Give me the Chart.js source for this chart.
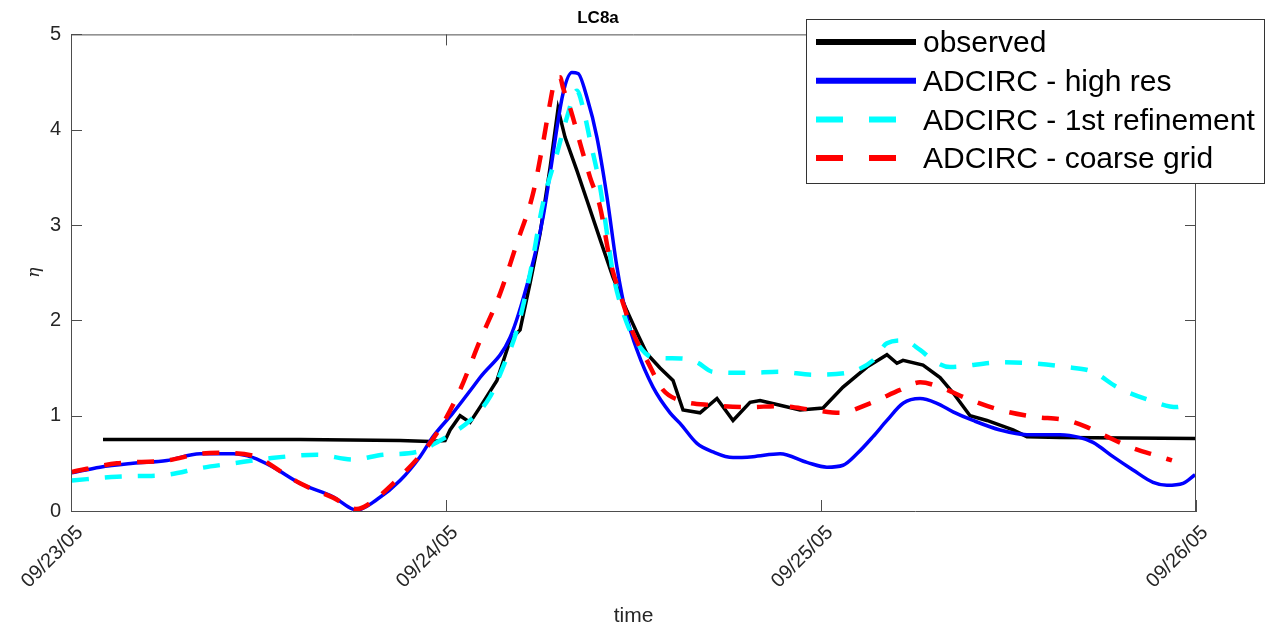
<!DOCTYPE html>
<html>
<head>
<meta charset="utf-8">
<script src="https://cdn.jsdelivr.net/npm/chart.js@4.4.1/dist/chart.umd.min.js"></script>
<style>
  body { margin: 0; background: #fff; }
  #caja { width: 1281px; height: 631px; }
</style>
</head>
<body>
<div id="caja"><canvas id="grafica"></canvas></div>
<script>
// horas desde 09/23/05 00:00
const tickLabels = ['09/23/05', '09/24/05', '09/25/05', '09/26/05'];

const horasObs = [2.05, 8.26, 14.66, 21.06, 22.98, 23.94, 24.26, 24.9, 25.54, 26.18, 27.26, 28.1, 28.74, 29.38, 30.02, 30.66, 31.17, 31.62, 32.38, 33.02, 33.86, 34.69, 35.58, 36.22, 36.86, 37.7, 38.53, 39.17, 40.26, 41.34, 42.37, 43.46, 44.1, 45.38, 46.66, 48.13, 49.41, 50.94, 52.22, 52.86, 53.25, 54.53, 55.62, 56.45, 57.54, 58.62, 60.29, 61.18, 63.3, 72];
const etaObs = [0.75, 0.75, 0.75, 0.74, 0.73, 0.74, 0.85, 1.0, 0.93, 1.09, 1.37, 1.79, 1.9, 2.39, 2.91, 3.6, 4.22, 3.92, 3.57, 3.26, 2.85, 2.45, 2.1, 1.87, 1.65, 1.5, 1.37, 1.06, 1.03, 1.18, 0.95, 1.14, 1.16, 1.11, 1.06, 1.08, 1.3, 1.51, 1.64, 1.55, 1.58, 1.53, 1.4, 1.24, 1.0, 0.95, 0.85, 0.78, 0.77, 0.76];

const horasAlta = [0.06, 1.86, 3.97, 6.14, 8.26, 10.37, 11.65, 12.93, 14.66, 16.77, 18.3, 19.58, 21.06, 22.34, 23.17, 24.45, 26.18, 28.1, 29.38, 30.21, 30.66, 31.49, 32.06, 32.45, 33.02, 33.66, 34.3, 34.94, 35.58, 36.22, 37.25, 38.34, 38.98, 40.06, 41.09, 42.37, 43.65, 45.38, 47.1, 48.38, 49.41, 50.3, 51.33, 52.22, 53.25, 54.34, 55.42, 56.45, 57.73, 59.46, 61.18, 63.3, 64.58, 65.41, 66.69, 67.97, 69.25, 70.14, 71.17, 71.94];
const etaAlta = [0.40, 0.46, 0.50, 0.53, 0.60, 0.60, 0.56, 0.46, 0.29, 0.15, 0.01, 0.12, 0.32, 0.57, 0.78, 1.03, 1.40, 1.82, 2.49, 3.08, 3.54, 4.38, 4.60, 4.59, 4.34, 3.92, 3.30, 2.56, 2.03, 1.69, 1.30, 1.03, 0.92, 0.71, 0.62, 0.56, 0.57, 0.60, 0.51, 0.46, 0.48, 0.60, 0.78, 0.95, 1.13, 1.18, 1.13, 1.04, 0.95, 0.85, 0.80, 0.80, 0.77, 0.72, 0.57, 0.43, 0.30, 0.27, 0.29, 0.38];

const horasRef = [0.06, 2.94, 6.14, 8.26, 10.37, 12.54, 15.74, 18.05, 19.97, 22.14, 23.62, 24.45, 25.54, 26.82, 27.65, 28.54, 29.38, 30.21, 31.1, 31.74, 32.38, 32.77, 33.22, 33.86, 34.37, 34.69, 35.58, 36.42, 37.25, 39.04, 40.06, 41.09, 43.26, 45.38, 47.49, 49.66, 51.33, 52.22, 53.25, 54.34, 55.17, 56.26, 59.46, 61.57, 63.74, 65.41, 66.94, 69.06, 70.78, 71.3];
const etaRef = [0.32, 0.36, 0.38, 0.45, 0.50, 0.55, 0.59, 0.54, 0.59, 0.62, 0.74, 0.82, 0.95, 1.20, 1.51, 1.90, 2.49, 3.23, 3.75, 4.13, 4.41, 4.23, 3.89, 3.40, 2.84, 2.49, 1.97, 1.72, 1.61, 1.60, 1.56, 1.46, 1.45, 1.46, 1.43, 1.45, 1.58, 1.76, 1.79, 1.69, 1.58, 1.51, 1.56, 1.55, 1.51, 1.46, 1.30, 1.16, 1.09, 1.11];

const horasGruesa = [0.06, 2.94, 6.14, 8.26, 9.54, 11.65, 13.57, 14.66, 16.77, 18.3, 18.94, 21.06, 22.78, 23.81, 24.9, 26.18, 27.46, 28.54, 29.57, 30.21, 30.66, 30.98, 31.3, 31.49, 31.94, 32.58, 33.22, 33.86, 34.5, 35.33, 35.97, 36.86, 37.89, 38.98, 41.09, 43.26, 45.38, 47.49, 49.22, 51.14, 53.06, 54.34, 55.62, 57.34, 59.46, 61.57, 63.74, 65.02, 66.3, 67.97, 69.7, 70.46];
const etaGruesa = [0.41, 0.50, 0.53, 0.60, 0.61, 0.58, 0.40, 0.29, 0.14, 0.02, 0.06, 0.36, 0.67, 0.92, 1.27, 1.79, 2.28, 2.81, 3.33, 3.86, 4.28, 4.52, 4.55, 4.44, 4.23, 3.86, 3.50, 3.19, 2.63, 2.18, 1.87, 1.58, 1.27, 1.16, 1.11, 1.09, 1.10, 1.06, 1.03, 1.13, 1.27, 1.35, 1.30, 1.18, 1.06, 0.99, 0.95, 0.88, 0.78, 0.66, 0.57, 0.53];

const puntos = (hs, ys) => hs.map((h, i) => ({ x: h, y: ys[i] }));

const colorEje = '#4d4d4d';
const fuente = '"Liberation Sans", Arial, sans-serif';

// caja tipo matlab: borde arriba/derecha y ticks hacia adentro
const cajaEjes = {
  id: 'cajaEjes',
  afterDatasetsDraw(chart) {
    const c = chart.ctx;
    const a = chart.chartArea;
    const sx = chart.scales.x, sy = chart.scales.y;
    c.save();
    c.strokeStyle = colorEje;
    c.lineWidth = 1;
    c.beginPath();
    c.moveTo(a.left, a.top + 0.5); c.lineTo(a.right, a.top + 0.5);
    c.moveTo(a.right - 0.5, a.top); c.lineTo(a.right - 0.5, a.bottom);
    sy.ticks.forEach(t => {
      const y = Math.round(sy.getPixelForValue(t.value)) + 0.5;
      c.moveTo(a.left, y); c.lineTo(a.left + 11, y);
      c.moveTo(a.right, y); c.lineTo(a.right - 11, y);
    });
    sx.ticks.forEach(t => {
      const x = Math.round(sx.getPixelForValue(t.value)) + 0.5;
      c.moveTo(x, a.bottom); c.lineTo(x, a.bottom - 11);
      c.moveTo(x, a.top); c.lineTo(x, a.top + 11);
    });
    c.stroke();
    c.restore();
  }
};

const leyenda = {
  id: 'leyenda',
  afterDraw(chart) {
    const c = chart.ctx;
    c.save();
    c.fillStyle = '#fff';
    c.fillRect(806, 19, 458, 164);
    c.strokeStyle = '#333';
    c.lineWidth = 1;
    c.strokeRect(806.5, 19.5, 458, 164);
    chart.data.datasets.forEach((ds, i) => {
      const y = 42 + i * 38.7;
      c.strokeStyle = ds.borderColor;
      c.lineWidth = 6;
      c.setLineDash(ds.borderDash ? [27, 26] : []);
      c.beginPath(); c.moveTo(816, y); c.lineTo(916, y); c.stroke();
      c.setLineDash([]);
      c.fillStyle = '#000';
      c.font = '30px ' + fuente;
      c.textBaseline = 'middle';
      c.fillText(ds.label, 923, y + 2);
    });
    c.restore();
  }
};

const grafica = new Chart(document.getElementById('grafica'), {
  type: 'line',
  data: {
    datasets: [
      { label: 'observed', data: puntos(horasObs, etaObs), borderColor: '#000000', borderWidth: 3.5, order: 3 },
      { label: 'ADCIRC - high res', data: puntos(horasAlta, etaAlta), borderColor: '#0000ff', borderWidth: 3.5, cubicInterpolationMode: 'monotone', order: 2 },
      { label: 'ADCIRC - 1st refinement', data: puntos(horasRef, etaRef), borderColor: '#00ffff', borderWidth: 4.5, borderDash: [17, 16], cubicInterpolationMode: 'monotone', order: 1 },
      { label: 'ADCIRC - coarse grid', data: puntos(horasGruesa, etaGruesa), borderColor: '#ff0000', borderWidth: 4.5, borderDash: [17, 16], cubicInterpolationMode: 'monotone', order: 0 }
    ]
  },
  options: {
    maintainAspectRatio: false,
    animation: false,
    elements: { point: { radius: 0 } },
    layout: { padding: { left: 0, right: 85, top: 0, bottom: 0 } },
    plugins: {
      legend: { display: false },
      tooltip: { enabled: false },
      title: {
        display: true,
        text: 'LC8a',
        color: '#000',
        font: { family: fuente, size: 17, weight: 'bold' },
        padding: { top: 8, bottom: 6 }
      }
    },
    scales: {
      x: {
        type: 'linear',
        min: 0,
        max: 72,
        afterFit: s => { s.height = 120; },
        afterBuildTicks: s => { s.ticks = tickLabels.map((_, i) => ({ value: i * 24 })); },
        grid: { display: false, drawTicks: false },
        border: { color: colorEje },
        ticks: {
          color: '#262626',
          font: { family: fuente, size: 20 },
          minRotation: 45,
          maxRotation: 45,
          padding: 10,
          labelOffset: 9,
          callback: (v) => tickLabels[Math.round(v / 24)]
        },
        title: {
          display: true,
          text: 'time',
          color: '#262626',
          font: { family: fuente, size: 21 },
          padding: { top: 4, bottom: 2 }
        }
      },
      y: {
        min: 0,
        max: 5,
        afterFit: s => { s.width = 71; },
        grid: { display: false, drawTicks: false },
        border: { color: colorEje },
        ticks: {
          stepSize: 1,
          color: '#262626',
          font: { family: fuente, size: 20 },
          padding: 10
        },
        title: {
          display: true,
          text: 'η',
          color: '#262626',
          font: { family: 'DejaVu Serif', size: 17, style: 'italic' },
          padding: { top: 24, bottom: 0 }
        }
      }
    }
  },
  plugins: [cajaEjes, leyenda]
});
</script>
</body>
</html>
